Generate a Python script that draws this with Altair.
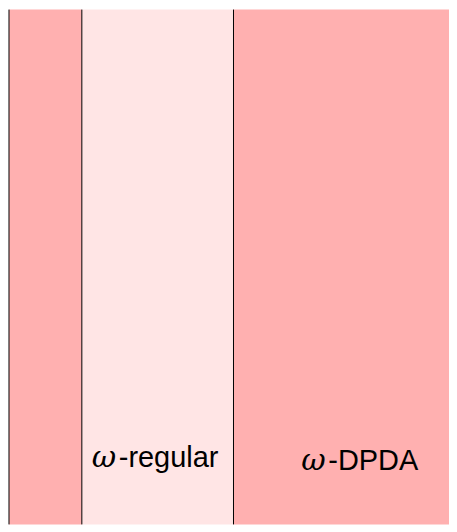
import altair as alt
import pandas as pd

# bands (reference pixel units along x)
band_names = ["outer", "ω-regular", "ω-DPDA"]
band_x0 = [5, 81, 233]
band_x1 = [81, 233, 457]
band_colors = ["#FFB0B0", "#FFE5E5", "#FFB0B0"]
band_top = [0, 0, 0]
band_bottom = [532, 532, 532]

# separating lines
line_x = [5, 81, 233]

# labels
label_rest = ["-regular", "-DPDA"]
label_x = [92, 302]
label_y = [466, 469]

bands = pd.DataFrame({"name": band_names, "x0": band_x0, "x1": band_x1,
                      "color": band_colors, "y0": band_top, "y1": band_bottom})
lines = pd.DataFrame({"x": line_x})
labels = pd.DataFrame({"omega": ["ω"] * len(label_rest), "rest": label_rest,
                       "x": label_x, "y": label_y})

xs = alt.Scale(domain=[8, 449], clamp=True, nice=False, zero=False)
ys = alt.Scale(domain=[524, 8], clamp=True, nice=False, zero=False)

rects = alt.Chart(bands).mark_rect().encode(
    x=alt.X("x0:Q", scale=xs, axis=None), x2="x1:Q",
    y=alt.Y("y0:Q", scale=ys, axis=None), y2="y1:Q",
    color=alt.Color("color:N", scale=None),
)

rules = alt.Chart(lines).mark_rule(color="black", strokeWidth=1).encode(
    x=alt.X("x:Q", scale=xs, axis=None),
)

omega = alt.Chart(labels).mark_text(
    align="left", baseline="alphabetic", fontSize=30, font="DejaVu Serif",
    fontStyle="italic", color="black", dx=-1,
).encode(
    x=alt.X("x:Q", scale=xs, axis=None), y=alt.Y("y:Q", scale=ys, axis=None),
    text="omega:N",
)

rest = alt.Chart(labels).mark_text(
    align="left", baseline="alphabetic", fontSize=29, font="Liberation Sans",
    color="black", dx=26,
).encode(
    x=alt.X("x:Q", scale=xs, axis=None), y=alt.Y("y:Q", scale=ys, axis=None),
    text="rest:N",
)

chart = alt.layer(rects, rules, omega, rest).properties(
    width=441, height=516, padding=0
).configure_view(stroke=None)

chart.save("out.html", embed_options={"renderer": "svg", "actions": False})
